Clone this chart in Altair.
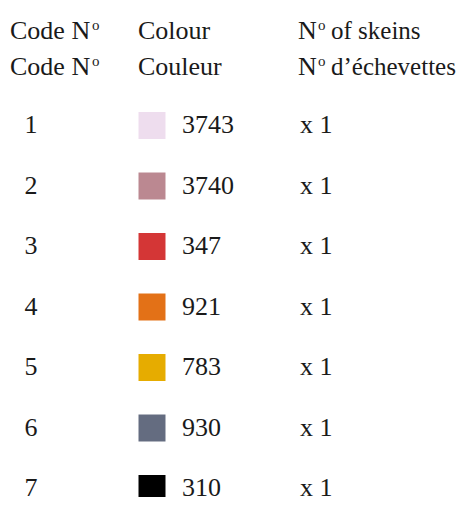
import altair as alt
import pandas as pd

# ---- data ----
code_numbers = ["1", "2", "3", "4", "5", "6", "7"]
colour_codes = ["3743", "3740", "347", "921", "783", "930", "310"]
colour_hex = ["#EEDDEE", "#BB8891", "#D43636", "#E37117", "#E6AC00", "#646C80", "#000000"]
skeins = ["x 1", "x 1", "x 1", "x 1", "x 1", "x 1", "x 1"]

header_columns = ["code", "colour", "skeins"]
header_line1 = ["Code N", "Colour", "N"]
header_line2 = ["Code N", "Couleur", "N"]
header_tail1 = ["of skeins"]
header_tail2 = ["d’échevettes"]

rows = list(range(1, len(code_numbers) + 1))
FONT = "Liberation Serif"
INK = "#1a1a1a"
col_index = {c: i for i, c in enumerate(header_columns)}

df = pd.DataFrame({
    "row": rows,
    "code": code_numbers,
    "ccode": colour_codes,
    "hex": colour_hex,
    "skeins": skeins,
})
df["c_code"] = col_index["code"]
df["c_colour"] = col_index["colour"]
df["c_skeins"] = col_index["skeins"]

hdr = pd.DataFrame({
    "col": [col_index[c] for c in header_columns] * 2,
    "line": [1] * 3 + [2] * 3,
    "text": header_line1 + header_line2,
    "row": [0] * 6,
})
sup = pd.DataFrame({"col": [0, 2, 0, 2], "line": [1, 1, 2, 2], "text": ["o"] * 4, "row": [0] * 4})
tail = pd.DataFrame({"col": [2, 2], "line": [1, 2], "text": header_tail1 + header_tail2, "row": [0, 0]})

xscale = alt.Scale(domain=[0, 1, 2], range=[2, 130, 290], nice=False, zero=False)
yscale = alt.Scale(domain=[1, 7], range=[117.5, 480.5], nice=False, zero=False)

def X(field):
    return alt.X(field, type="quantitative", scale=xscale, axis=None)

Y = alt.Y("row:Q", scale=yscale, axis=None)

base = alt.Chart(df)

code_txt = base.mark_text(font=FONT, fontSize=26, align="center", baseline="alphabetic", dx=21, dy=7.5, color=INK).encode(
    x=X("c_code"), y=Y, text="code:N")

squares = base.mark_point(shape="square", size=729, filled=True, opacity=1, xOffset=14).encode(
    x=X("c_colour"), y=Y, color=alt.Color("hex:N", scale=None))

ccode_txt = base.mark_text(font=FONT, fontSize=26, align="left", baseline="alphabetic", dx=44, dy=7.5, color=INK).encode(
    x=X("c_colour"), y=Y, text="ccode:N")

skein_txt = base.mark_text(font=FONT, fontSize=26, align="left", baseline="alphabetic", dx=2, dy=7.5, color=INK).encode(
    x=X("c_skeins"), y=Y, text="skeins:N")

layers = [code_txt, squares, ccode_txt, skein_txt]

# header: row 0 sits one row-step above row 1 (computed from the scale: 117.5 - 60.5 = 57)
for line, dy in [(1, -26.5), (2, 9.5)]:
    h = alt.Chart(hdr[hdr.line == line]).mark_text(font=FONT, fontSize=26, align="left", baseline="alphabetic", dy=dy, color=INK).encode(
        x=X("col"), y=Y, text="text:N")
    s_code = alt.Chart(sup[(sup.line == line) & (sup.col == 0)]).mark_text(font=FONT, fontSize=15, align="left", baseline="alphabetic", dx=82, dy=dy - 9, color=INK).encode(
        x=X("col"), y=Y, text="text:N")
    s_sk = alt.Chart(sup[(sup.line == line) & (sup.col == 2)]).mark_text(font=FONT, fontSize=15, align="left", baseline="alphabetic", dx=20, dy=dy - 9, color=INK).encode(
        x=X("col"), y=Y, text="text:N")
    t = alt.Chart(tail[tail.line == line]).mark_text(font=FONT, fontSize=25, align="left", baseline="alphabetic", dx=33, dy=dy, color=INK).encode(
        x=X("col"), y=Y, text="text:N")
    layers += [h, s_code, s_sk, t]

chart = alt.layer(*layers).properties(
    width=450, height=489,
    autosize=alt.AutoSizeParams(type="none"),
    padding=0,
).configure(background="white").configure_view(stroke=None)

chart.save("out.html", embed_options={"renderer": "svg", "actions": False})
